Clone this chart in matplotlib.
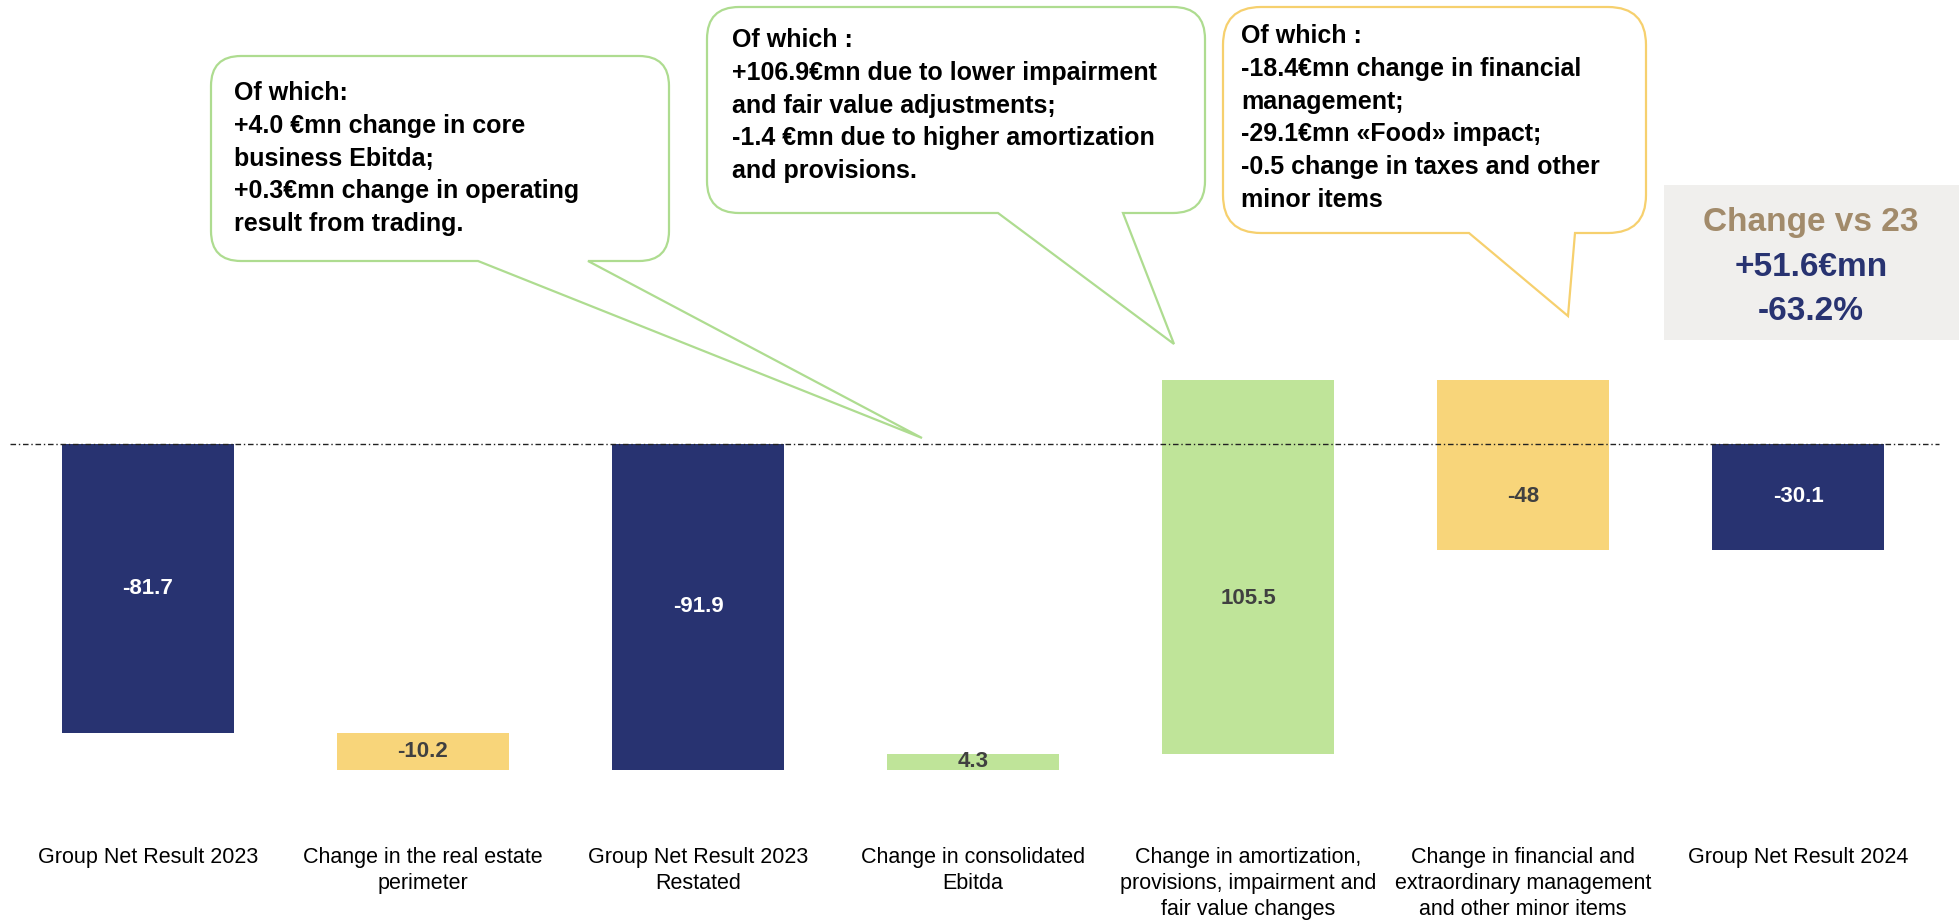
import numpy as np
import matplotlib
matplotlib.use('Agg')
import matplotlib.pyplot as plt
from matplotlib.path import Path
from matplotlib.patches import PathPatch, Rectangle

plt.rcParams['font.family'] = ['Liberation Sans', 'DejaVu Sans']

# Waterfall data (€mn)
categories = [
    "Group Net Result 2023",
    "Change in the real estate\nperimeter",
    "Group Net Result 2023\nRestated",
    "Change in consolidated\nEbitda",
    "Change in amortization,\nprovisions, impairment and\nfair value changes",
    "Change in financial and\nextraordinary management\nand other minor items",
    "Group Net Result 2024",
]
values = [-81.7, -10.2, -91.9, 4.3, 105.5, -48, -30.1]
is_total = [True, False, True, False, False, False, True]
value_labels = ["-81.7", "-10.2", "-91.9", "4.3", "105.5", "-48", "-30.1"]

note_ebitda = ["Of which:", "+4.0 €mn change in core", "business Ebitda;",
               "+0.3€mn change in operating", "result from trading."]
note_amort = ["Of which :", "+106.9€mn due to lower impairment",
              "and fair value adjustments;", "-1.4 €mn due to higher amortization",
              "and provisions."]
note_fin = ["Of which :", "-18.4€mn change in financial", "management;",
            "-29.1€mn «Food» impact;", "-0.5 change in taxes and other",
            "minor items"]

summary_title = "Change vs 23"
summary_abs = "+51.6€mn"
summary_pct = "-63.2%"

NAVY = '#283371'
YELLOW = '#F8D57A'
GREEN = '#BFE499'
GREEN_EDGE = '#AEDC90'
YELLOW_EDGE = '#F6D06E'
LABEL_DARK = '#404040'

W, H = 1959, 923


def fpx(x, y):
    """pixel position (origin top-left) -> figure fraction"""
    return x / W, 1 - y / H


def callout(fig, x0, y0, x1, y1, r, base_l, base_r, tip, edge):
    pts = [
        ((x0 + r, y0), Path.MOVETO),
        ((x1 - r, y0), Path.LINETO),
        ((x1, y0), Path.CURVE3), ((x1, y0 + r), Path.CURVE3),
        ((x1, y1 - r), Path.LINETO),
        ((x1, y1), Path.CURVE3), ((x1 - r, y1), Path.CURVE3),
        ((base_r, y1), Path.LINETO),
        (tip, Path.LINETO),
        ((base_l, y1), Path.LINETO),
        ((x0 + r, y1), Path.LINETO),
        ((x0, y1), Path.CURVE3), ((x0, y1 - r), Path.CURVE3),
        ((x0, y0 + r), Path.LINETO),
        ((x0, y0), Path.CURVE3), ((x0 + r, y0), Path.CURVE3),
        ((x0 + r, y0), Path.CLOSEPOLY),
    ]
    verts = [fpx(*p) for p, _ in pts]
    codes = [c for _, c in pts]
    patch = PathPatch(Path(verts, codes), facecolor='white', edgecolor=edge,
                      lw=1.6, transform=fig.transFigure, zorder=5)
    fig.patches.append(patch)


def note_text(fig, x, y_first, lines, step=32.8):
    for k, line in enumerate(lines):
        fig.text(*fpx(x, y_first + k * step), line, ha='left', va='center',
                 fontsize=18, fontweight='bold', color='black', zorder=6)


fig = plt.figure(figsize=(W / 100, H / 100), dpi=100)
ax = fig.add_axes([0, 1 - 830 / H, 1, 830 / H])

# running totals for the floating bars
bottoms = []
running = 0.0
for v, tot in zip(values, is_total):
    if tot:
        bottoms.append(0.0)
        running = v
    else:
        bottoms.append(running)
        running += v

colors = [NAVY if t else (GREEN if v > 0 else YELLOW) for v, t in zip(values, is_total)]
x = np.arange(len(values))
ax.bar(x, values, bottom=bottoms, width=0.622, color=colors, zorder=2)

# labels sit in the middle of the part of each bar below zero
for i, (v, b, t) in enumerate(zip(values, bottoms, is_total)):
    lo, hi = min(b, b + v), max(b, b + v)
    hi = min(hi, 0.0)
    ax.text(i, (lo + hi) / 2, value_labels[i], ha='center', va='center',
            fontsize=16, fontweight='bold',
            color='white' if t else LABEL_DARK, zorder=4)

ax.axhline(0, xmin=10 / W, xmax=1939 / W, color='#222222', lw=1.0,
           ls=(0, (4, 2, 1, 2)), zorder=3)

ax.set_xlim(-148 / 275, (W - 148) / 275)
ax.set_ylim(-(830 - 443.5) / 3.548, 443.5 / 3.548)
ax.set_xticks(x)
ax.set_xticklabels(categories, fontsize=15.5, color='black', linespacing=1.33)
ax.tick_params(axis='x', length=0, pad=12)
ax.set_yticks([])
for s in ax.spines.values():
    s.set_visible(False)
ax.patch.set_alpha(0)

# callouts
callout(fig, 211, 56, 669, 261, 30, 478, 588, (922, 438), GREEN_EDGE)
note_text(fig, 234, 93, note_ebitda)

callout(fig, 707, 7, 1205, 213, 32, 998, 1123, (1174, 344), GREEN_EDGE)
note_text(fig, 732, 40, note_amort)

callout(fig, 1223, 7, 1646, 233, 38, 1469, 1575, (1568, 316), YELLOW_EDGE)
note_text(fig, 1241, 36, note_fin)

# summary panel
x0, y0 = fpx(1664, 340)
x1, y1 = fpx(W, 185)
fig.patches.append(Rectangle((x0, y0), x1 - x0, y1 - y0, facecolor='#F0EFED',
                             edgecolor='none', transform=fig.transFigure, zorder=1))
fig.text(*fpx(1811, 222), summary_title, ha='center', va='center',
         fontsize=24, fontweight='bold', color='#A28B6B')
fig.text(*fpx(1811, 268), summary_abs, ha='center', va='center',
         fontsize=24, fontweight='bold', color=NAVY)
fig.text(*fpx(1811, 312), summary_pct, ha='center', va='center',
         fontsize=24, fontweight='bold', color=NAVY)

fig.savefig('out.png', dpi=100, facecolor='white')
